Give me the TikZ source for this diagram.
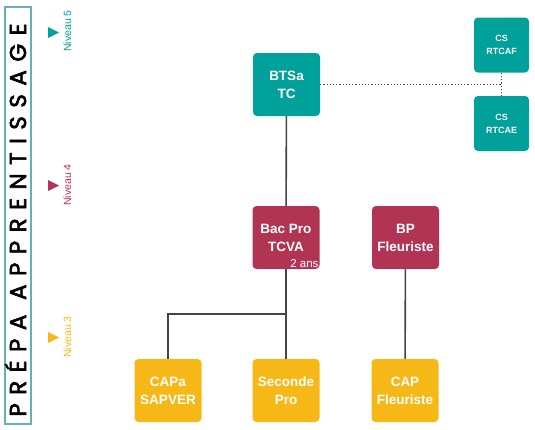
\documentclass[tikz,border=0pt]{standalone}
\usepackage{fontspec}
\setmainfont{Liberation Sans}
\newfontfamily\titlefont{Poppins}[LetterSpace=37, FakeBold=2.5]
\usepackage{tikz}

\definecolor{vert}{RGB}{0,161,154}
\definecolor{rouge}{RGB}{177,52,84}
\definecolor{jaune}{RGB}{245,184,22}
\definecolor{trait}{RGB}{68,68,68}
\definecolor{cadre}{RGB}{100,176,180}

\tikzset{
  diplome/.style={rounded corners=4pt, minimum width=67pt, minimum height=63pt, inner sep=0pt,
    text=white, align=center, font=\bfseries\fontsize{13.5}{18}\selectfont},
  petit/.style={diplome, minimum width=55pt, minimum height=55pt, font=\bfseries\fontsize{9}{13}\selectfont},
  niveau/.style={rotate=90, anchor=base, font=\fontsize{10.5}{12}\selectfont},
  lien/.style={draw=trait, line width=1.6pt}
}

\begin{document}
\begin{tikzpicture}[x=1pt, y=-1pt]
    \useasboundingbox (0,0) rectangle (535,429);

    % bandeau de gauche
    \draw [cadre, line width=1.5pt] (5,7) rectangle (31,424);
    \node (titre) [rotate=90, anchor=base] at (26,220) {\titlefont\fontsize{23}{26}\selectfont PRÉPA APPRENTISSAGE};

    \fill [vert] (48,27) -- (59,32.5) -- (48,38) -- cycle;
    \fill [rouge] (48,180) -- (59,185.5) -- (48,191) -- cycle;
    \fill [jaune] (48,332) -- (59,337.5) -- (48,343) -- cycle;
    \node (n5) [niveau, text=vert] at (71,31) {Niveau 5};
    \node (n4) [niveau, text=rouge] at (71,185) {Niveau 4};
    \node (n3) [niveau, text=jaune] at (71,337) {Niveau 3};

    % diplomes
    \node (btsa) [diplome, fill=vert] at (286.5,84.5) {BTSa\\TC};
    \node (rtcaf) [petit, fill=vert] at (501.5,45) {CS\\RTCAF};
    \node (rtcae) [petit, fill=vert] at (501.5,123.5) {CS\\RTCAE};
    \node (bacpro) [diplome, fill=rouge] at (286,237.5) {Bac Pro\\TCVA};
    \node (bp) [diplome, fill=rouge] at (405.5,237.5) {BP\\Fleuriste};
    \node (capa) [diplome, fill=jaune] at (168,390.5) {CAPa\\SAPVER};
    \node (seconde) [diplome, fill=jaune] at (286,390.5) {Seconde\\Pro};
    \node (cap) [diplome, fill=jaune] at (405,390.5) {CAP\\Fleuriste};
    \node (duree) [anchor=south east, inner sep=1pt, text=white, font=\fontsize{11.5}{13}\selectfont] at (bacpro.south east) {2 ans};

    \coordinate (branche) at (286,314);

    \draw [lien] (btsa) to (bacpro);
    \draw [lien] (bacpro) to (seconde);
    \draw [lien] (capa) |- (branche);
    \draw [lien] (bp) to (cap);
    \draw [trait, line width=1.2pt, dotted] (btsa.east) to (btsa.east -| rtcaf.south);
    \draw [trait, line width=1.2pt, dotted] (rtcaf) to (rtcae);

  \end{tikzpicture}
\end{document}
